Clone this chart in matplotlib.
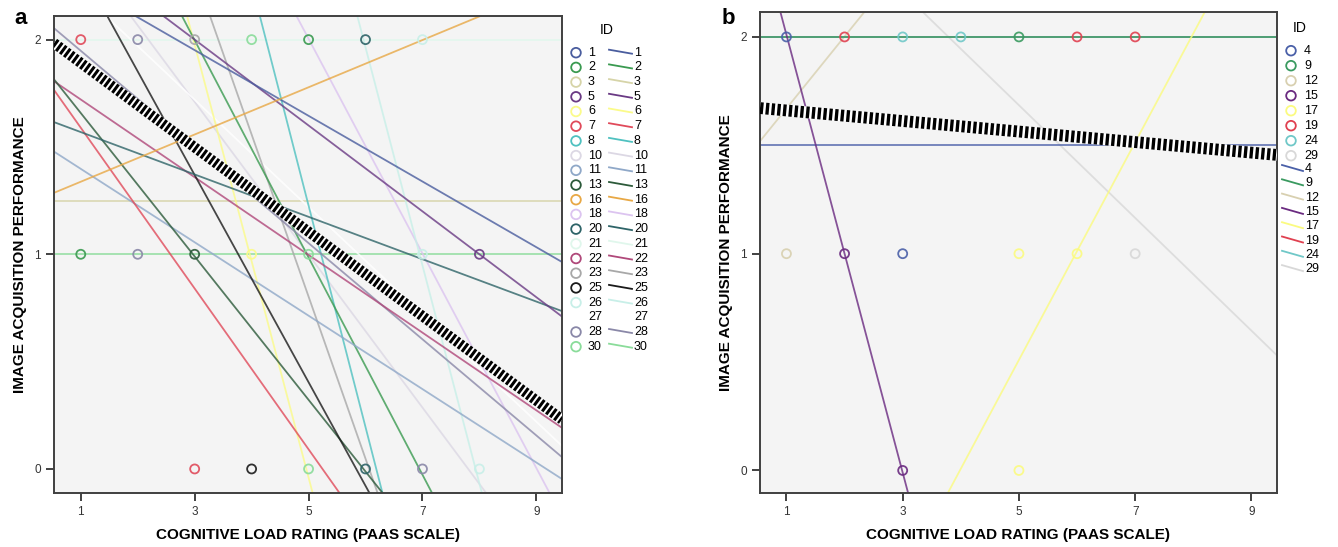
import numpy as np
import matplotlib
matplotlib.use("Agg")
import matplotlib.pyplot as plt

plt.rcParams['font.family'] = ['Liberation Sans', 'DejaVu Sans']

# colours per ID (SPSS style palette)
id_colors = {
    1: '#4a5d9e', 2: '#3a9a50', 3: '#d6d4a8', 5: '#6a3a84', 6: '#fbfb8a',
    7: '#e04a5a', 8: '#4fc1c0', 10: '#dcd8e4', 11: '#8fa8c8', 13: '#2c5a3a',
    16: '#e8a845', 18: '#dcc4f0', 20: '#2e6468', 21: '#e0f7ec', 22: '#b0487a',
    23: '#a8a8a8', 25: '#1a1a1a', 26: '#c8efe8', 27: '#ffffff', 28: '#8a88a8',
    30: '#8adc9a',
    4: '#4a60a8', 9: '#3a9a60', 12: '#d8d0b0', 15: '#6a2a80', 17: '#fbfb80',
    19: '#e04050', 24: '#70c8c8', 29: '#d8d8d8',
}

# panel a: observations
ids_a = [1, 2, 3, 5, 6, 7, 8, 10, 11, 13, 16, 18, 20, 21, 22, 23, 25, 26, 27, 28, 30]
pts_a_x = [1, 2, 3, 4, 5, 6, 7, 1, 2, 3, 4, 5, 7, 8, 3, 4, 5, 6, 7, 8]
pts_a_y = [2, 2, 2, 2, 2, 2, 2, 1, 1, 1, 1, 1, 1, 1, 0, 0, 0, 0, 0, 0]
pts_a_id = [7, 28, 23, 30, 2, 20, 26, 2, 28, 13, 6, 30, 26, 5, 7, 25, 30, 20, 28, 26]

# panel a: per-ID fit lines (intercept, slope)
line_a_id = [3, 21, 30, 10, 27, 18, 26, 23, 8, 6, 2, 11, 28, 22, 7, 13, 25, 20, 5, 1, 16]
line_a_int = [1.25, 2.0, 1.0, 2.778, 2.47, 4.504, 8.06, 4.578, 6.387, 5.0, 3.515,
              1.569, 2.172, 1.902, 1.964, 1.992, 2.817, 1.668, 2.60, 2.41, 1.228]
line_a_slope = [0, 0, 0, -0.356, -0.25, -0.50, -1.016, -0.755, -1.032, -1.008, -0.506,
                -0.171, -0.224, -0.181, -0.3745, -0.334, -0.4826, -0.0987, -0.20, -0.153, 0.110]
fit_a = (2.088, -0.1966)

# panel b: observations
ids_b = [4, 9, 12, 15, 17, 19, 24, 29]
pts_b_x = [1, 2, 3, 4, 5, 6, 7, 1, 2, 3, 5, 6, 7, 3, 5]
pts_b_y = [2, 2, 2, 2, 2, 2, 2, 1, 1, 1, 1, 1, 1, 0, 0]
pts_b_id = [4, 19, 24, 24, 9, 19, 19, 12, 15, 4, 17, 17, 29, 15, 17]

line_b_id = [29, 12, 19, 24, 9, 4, 17, 15]
line_b_int = [2.985, 1.338, 2.0, 2.0, 2.0, 1.5, -2.0, 3.02]
line_b_slope = [-0.260, 0.332, 0, 0, 0, 0, 0.502, -1.01]
fit_b = (1.685, -0.0243)

W, H = 1338, 547
fig = plt.figure(figsize=(W / 100, H / 100), dpi=100)


def make_ax(left, top, right, bottom, xlim, ylim):
    ax = fig.add_axes([left / W, 1 - bottom / H, (right - left) / W, (bottom - top) / H])
    ax.set_facecolor('#f4f4f4')
    ax.set_xlim(*xlim)
    ax.set_ylim(*ylim)
    ax.set_xticks([1, 3, 5, 7, 9])
    ax.set_yticks([0, 1, 2])
    ax.tick_params(direction='out', length=6, width=1.3, colors='#333333',
                   labelsize=8.5, labelcolor='#333333')
    for s in ax.spines.values():
        s.set_color('#404040')
        s.set_linewidth(1.4)
    ax.set_xlabel('COGNITIVE LOAD RATING (PAAS SCALE)', fontsize=11, fontweight='bold', labelpad=7)
    ax.set_ylabel('IMAGE ACQUISITION PERFORMANCE', fontsize=11, fontweight='bold', labelpad=5)
    return ax


def draw_panel(ax, line_id, line_int, line_slope, px, py, pid, fit, fit_lw, fit_dash):
    xs = np.array(ax.get_xlim())
    for i, a, b in zip(line_id, line_int, line_slope):
        ax.plot(xs, a + b * xs, color=id_colors[i], lw=1.3, alpha=0.8, zorder=2)
    ax.plot(xs, fit[0] + fit[1] * xs, color='white', lw=fit_lw, solid_capstyle='butt', zorder=3)
    ax.plot(xs, fit[0] + fit[1] * xs, color='black', lw=fit_lw, dashes=fit_dash,
            dash_capstyle='butt', zorder=4)
    ax.scatter(px, py, s=42, facecolors='none', edgecolors=[id_colors[i] for i in pid],
               linewidths=1.3, alpha=0.9, zorder=5)


ax_a = make_ax(54, 16, 562, 493, (0.53, 9.45), (-0.112, 2.11))
draw_panel(ax_a, line_a_id, line_a_int, line_a_slope, pts_a_x, pts_a_y, pts_a_id,
           fit_a, 7.5, (0.29, 0.19))

ax_b = make_ax(760, 12, 1277, 493, (0.545, 9.44), (-0.104, 2.115))
draw_panel(ax_b, line_b_id, line_b_int, line_b_slope, pts_b_x, pts_b_y, pts_b_id,
           fit_b, 8.5, (0.28, 0.21))

# overlay in pixel coords for legends and panel letters
ov = fig.add_axes([0, 0, 1, 1], facecolor='none')
ov.set_xlim(0, W)
ov.set_ylim(H, 0)
ov.axis('off')

ov.text(14, 18, 'a', fontsize=16, fontweight='bold', va='center', ha='left')
ov.text(722, 18, 'b', fontsize=16, fontweight='bold', va='center', ha='left')

# legend a: marker column + line column
ov.text(607, 30, 'ID', fontsize=10, ha='center', va='center')
for k, i in enumerate(ids_a):
    y = 52.7 + k * 14.7
    c = id_colors[i]
    ov.scatter([576], [y], s=48, facecolors='none', edgecolors=c, linewidths=1.3)
    ov.text(588, y, str(i), fontsize=9, ha='left', va='center')
    ov.plot([609, 632], [y - 3, y + 1], color=c, lw=1.3)
    ov.text(634, y, str(i), fontsize=9, ha='left', va='center')

# legend b: markers first, then lines
ov.text(1300, 28, 'ID', fontsize=10, ha='center', va='center')
for k, i in enumerate(ids_b):
    y = 50.7 + k * 15.0
    ov.scatter([1291], [y], s=48, facecolors='none', edgecolors=id_colors[i], linewidths=1.3)
    ov.text(1304, y, str(i), fontsize=9, ha='left', va='center')
for k, i in enumerate(ids_b):
    y = 169 + k * 14.3
    ov.plot([1282, 1303], [y - 4, y + 2], color=id_colors[i], lw=1.3)
    ov.text(1305, y, str(i), fontsize=9, ha='left', va='center')

fig.savefig('out.png', dpi=100)
